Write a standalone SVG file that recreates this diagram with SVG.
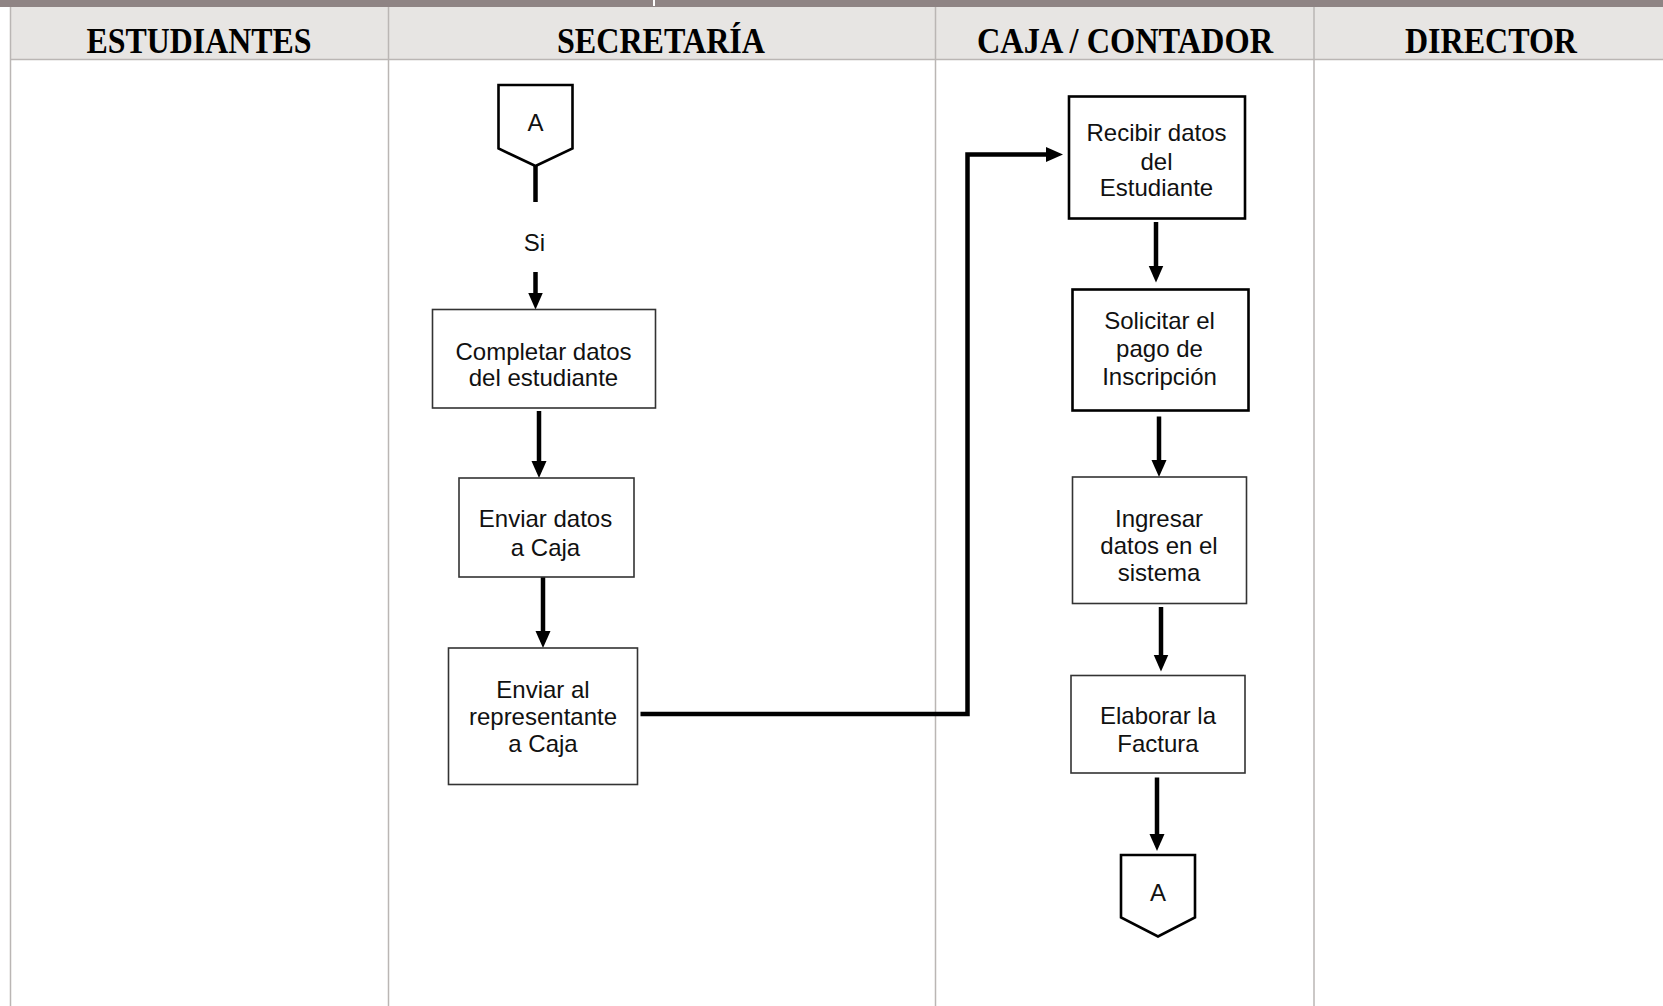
<svg xmlns="http://www.w3.org/2000/svg" width="1663" height="1006" viewBox="0 0 1663 1006">
<defs>
<style>
.hdr{font-family:"Liberation Serif","Times New Roman",serif;font-weight:bold;font-size:35px;fill:#000;text-anchor:middle}
.lbl{font-family:"Liberation Sans",Arial,sans-serif;font-size:24px;fill:#111;text-anchor:middle}
.box{fill:#fff;stroke:#333;stroke-width:1.6}
.boxb{fill:#fff;stroke:#000;stroke-width:2.6}
.off{fill:#fff;stroke:#000;stroke-width:2.6}
.lane{stroke:#bab6b4;stroke-width:1.5;fill:none}
.conn{stroke:#000;stroke-width:4.5;fill:none}
</style>
<marker id="ah" markerUnits="userSpaceOnUse" markerWidth="17" markerHeight="16" viewBox="0 0 17 16" refX="11" refY="8" orient="auto">
<path d="M0,0.5 L17,8 L0,15.5 Z" fill="#000"/>
</marker>
</defs>
<rect x="0" y="0" width="1663" height="1006" fill="#fff"/>
<g id="lanes">
<rect x="0" y="0" width="1663" height="7" fill="#8f8484"/>
<rect x="653" y="0" width="2" height="6" fill="#fff"/>
<rect x="10.5" y="7" width="1652.5" height="52.5" fill="#e7e5e3"/>
<line class="lane" x1="10.5" y1="59.5" x2="1663" y2="59.5"/>
<line class="lane" x1="10.5" y1="7" x2="10.5" y2="1006"/>
<line class="lane" x1="388.5" y1="7" x2="388.5" y2="1006"/>
<line class="lane" x1="935.5" y1="7" x2="935.5" y2="1006"/>
<line class="lane" x1="1314" y1="7" x2="1314" y2="1006"/>
<text class="hdr" x="199" y="53" textLength="225" lengthAdjust="spacingAndGlyphs">ESTUDIANTES</text>
<text class="hdr" x="661" y="53" textLength="208" lengthAdjust="spacingAndGlyphs">SECRETARÍA</text>
<text class="hdr" x="1125" y="53" textLength="296" lengthAdjust="spacingAndGlyphs">CAJA / CONTADOR</text>
<text class="hdr" x="1491" y="53" textLength="172" lengthAdjust="spacingAndGlyphs">DIRECTOR</text>
</g>
<g id="connectors">
<line class="conn" x1="535.5" y1="166" x2="535.5" y2="202"/>
<line class="conn" x1="535.5" y1="272" x2="535.5" y2="303.5" marker-end="url(#ah)"/>
<line class="conn" x1="539" y1="411" x2="539" y2="472" marker-end="url(#ah)"/>
<line class="conn" x1="543" y1="577" x2="543" y2="642" marker-end="url(#ah)"/>
<polyline class="conn" points="640.5,714 967.5,714 967.5,154.5 1057,154.5" marker-end="url(#ah)"/>
<line class="conn" x1="1156" y1="222" x2="1156" y2="276.5" marker-end="url(#ah)"/>
<line class="conn" x1="1159" y1="416.5" x2="1159" y2="471" marker-end="url(#ah)"/>
<line class="conn" x1="1161" y1="607" x2="1161" y2="665.5" marker-end="url(#ah)"/>
<line class="conn" x1="1157" y1="777.5" x2="1157" y2="845" marker-end="url(#ah)"/>
</g>
<g id="n_a_top">
<path class="off" d="M498.5,85 L572.5,85 L572.5,148.5 L535.5,166 L498.5,148.5 Z"/>
<text class="lbl" x="535.5" y="131">A</text>
</g>
<g id="lbl_si">
<text class="lbl" x="534.5" y="251">Si</text>
</g>
<g id="n_completar">
<rect class="box" x="432.5" y="309.5" width="223" height="98.5"/>
<text class="lbl" x="543.5" y="359.5">Completar datos</text>
<text class="lbl" x="543.5" y="386">del estudiante</text>
</g>
<g id="n_enviar_datos">
<rect class="box" x="459" y="478" width="175" height="99"/>
<text class="lbl" x="545.5" y="527">Enviar datos</text>
<text class="lbl" x="545.5" y="555.5">a Caja</text>
</g>
<g id="n_enviar_rep">
<rect class="box" x="448.5" y="648" width="189" height="136.5"/>
<text class="lbl" x="543" y="697.5">Enviar al</text>
<text class="lbl" x="543" y="724.5">representante</text>
<text class="lbl" x="543" y="751.5">a Caja</text>
</g>
<g id="n_recibir">
<rect class="boxb" x="1069" y="96.5" width="176" height="122"/>
<text class="lbl" x="1156.5" y="141">Recibir datos</text>
<text class="lbl" x="1156.5" y="169.5">del</text>
<text class="lbl" x="1156.5" y="196">Estudiante</text>
</g>
<g id="n_solicitar">
<rect class="boxb" x="1072.5" y="289.5" width="176" height="121"/>
<text class="lbl" x="1159.5" y="328.5">Solicitar el</text>
<text class="lbl" x="1159.5" y="357">pago de</text>
<text class="lbl" x="1159.5" y="384.5">Inscripción</text>
</g>
<g id="n_ingresar">
<rect class="box" x="1072.5" y="477" width="174" height="126.5"/>
<text class="lbl" x="1159" y="526.5">Ingresar</text>
<text class="lbl" x="1159" y="554">datos en el</text>
<text class="lbl" x="1159" y="580.5">sistema</text>
</g>
<g id="n_elaborar">
<rect class="box" x="1071" y="675.5" width="174" height="97.5"/>
<text class="lbl" x="1158" y="724">Elaborar la</text>
<text class="lbl" x="1158" y="751.5">Factura</text>
</g>
<g id="n_a_bottom">
<path class="off" d="M1121,855 L1195,855 L1195,917.5 L1158,936.5 L1121,917.5 Z"/>
<text class="lbl" x="1158" y="900.5">A</text>
</g>
</svg>
